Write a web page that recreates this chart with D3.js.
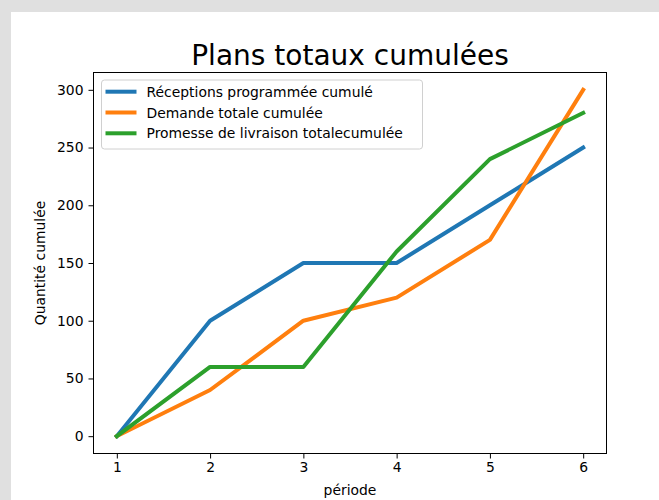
<!DOCTYPE html>
<html lang="en">
<head>
<meta charset="UTF-8">
<title>Plans totaux cumulées</title>
<script src="https://d3js.org/d3.v7.min.js"></script>
<style>
  body { margin: 0; background: #e0e0e0; }
  text { font-family: "DejaVu Sans", sans-serif; fill: #000; }
  .axis .domain { display: none; }
  .axis line { stroke: #000; stroke-width: 1; }
  .axis text { font-size: 13.9px; }
</style>
</head>
<body>
<svg id="chart" width="659" height="500"></svg>
<script>
// data
const periodes = [1, 2, 3, 4, 5, 6];
const receptions = [0, 100, 150, 150, 200, 250];
const demande = [0, 40, 100, 120, 170, 300];
const promesse = [0, 60, 60, 160, 240, 280];
const xTicks = [1, 2, 3, 4, 5, 6];
const yTicks = [0, 50, 100, 150, 200, 250, 300];
const seriesNames = ["Réceptions programmée cumulé", "Demande totale cumulée", "Promesse de livraison totalecumulée"];
const colors = ["#1f77b4", "#ff7f0e", "#2ca02c"];

const svg = d3.select("#chart");
// white figure area
svg.append("rect").attr("x", 11).attr("y", 12).attr("width", 648).attr("height", 488).attr("fill", "#fff");

const ax = { left: 93.5, right: 606.5, top: 72.5, bottom: 453.5 };

const x = d3.scaleLinear().domain([0.75, 6.25]).range([ax.left, ax.right]);
const y = d3.scaleLinear().domain([-15, 315]).range([ax.bottom, ax.top]);

// axes
svg.append("g")
  .attr("class", "axis")
  .attr("transform", `translate(0,${ax.bottom})`)
  .call(d3.axisBottom(x).tickValues(xTicks).tickSize(5).tickPadding(4).tickFormat(d3.format("d")));

svg.append("g")
  .attr("class", "axis")
  .attr("transform", `translate(${ax.left},0)`)
  .call(d3.axisLeft(y).tickValues(yTicks).tickSize(5).tickPadding(5).tickFormat(d3.format("d")));

// lines
const series = [receptions, demande, promesse];
const line = d3.line()
  .x((d, i) => x(periodes[i]))
  .y(d => y(d));

const plot = svg.append("g");
series.forEach((s, i) => {
  plot.append("path")
    .datum(s)
    .attr("fill", "none")
    .attr("stroke", colors[i])
    .attr("stroke-width", 4)
    .attr("stroke-linecap", "square")
    .attr("stroke-linejoin", "round")
    .attr("d", line);
});

// frame
svg.append("rect")
  .attr("x", ax.left).attr("y", ax.top)
  .attr("width", ax.right - ax.left).attr("height", ax.bottom - ax.top)
  .attr("fill", "none").attr("stroke", "#000").attr("stroke-width", 1);

// title and labels
svg.append("text")
  .attr("x", (ax.left + ax.right) / 2).attr("y", 65)
  .attr("text-anchor", "middle")
  .style("font-size", "28px")
  .text("Plans totaux cumulées");

svg.append("text")
  .attr("x", (ax.left + ax.right) / 2).attr("y", 495)
  .attr("text-anchor", "middle")
  .style("font-size", "13.9px")
  .text("période");

svg.append("text")
  .attr("transform", `translate(45,${(ax.top + ax.bottom) / 2}) rotate(-90)`)
  .attr("text-anchor", "middle")
  .style("font-size", "13.9px")
  .text("Quantité cumulée");

// legend
const legend = svg.append("g").attr("transform", "translate(101.5,80)");
legend.append("rect")
  .attr("width", 321).attr("height", 69).attr("rx", 3)
  .attr("fill", "#fff").attr("fill-opacity", 0.8)
  .attr("stroke", "#d0d0d0").attr("stroke-width", 1);

seriesNames.forEach((name, i) => {
  const row = legend.append("g").attr("transform", `translate(0,${11.7 + i * 20.8})`);
  row.append("line")
    .attr("x1", 4).attr("x2", 35)
    .attr("stroke", colors[i]).attr("stroke-width", 4);
  row.append("text")
    .attr("x", 45).attr("y", 5)
    .style("font-size", "13.9px")
    .text(name);
});
</script>
</body>
</html>
